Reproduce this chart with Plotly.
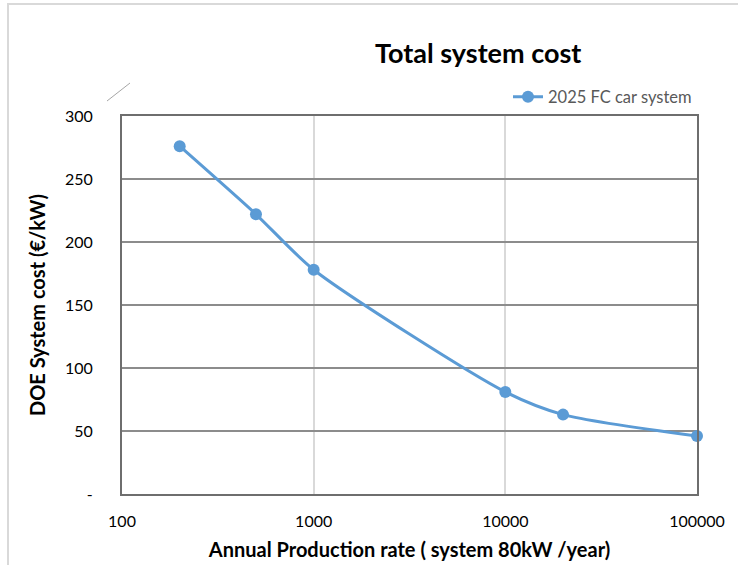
import plotly.graph_objects as go

# Data
production_rate = [200, 500, 1000, 10000, 20000, 100000]
system_cost = [276, 222, 178, 81, 63, 46]
series_name = "2025 FC car system"
x_tick_vals = [100, 1000, 10000, 100000]
x_tick_text = ["100", "1000", "10000", "100000"]
y_tick_vals = [0, 50, 100, 150, 200, 250, 300]
y_tick_text = ["-", "50", "100", "150", "200", "250", "300"]

W, H = 738, 565
L, R, T, B = 122, 41, 116, 71
pw, ph = W - L - R, H - T - B

def px_to_paper(px, py):
    return (px - L) / pw, (H - B - py) / ph

FONT = "Lato, Calibri, Carlito, sans-serif"
BLUE = "#5B9BD5"

fig = go.Figure()
fig.add_trace(go.Scatter(
    x=production_rate, y=system_cost, name=series_name,
    mode="lines+markers",
    line=dict(color=BLUE, width=3, shape="spline", smoothing=0.7),
    marker=dict(color=BLUE, size=12),
    cliponaxis=False,
))

# chart outer frame and diagonal decoration
fx0, fy0 = px_to_paper(8, 4)
fx1, fy1 = px_to_paper(760, 580)
dx0, dy0 = px_to_paper(107, 101)
dx1, dy1 = px_to_paper(130, 83)
tx, ty = px_to_paper(478, 53)

fig.update_layout(
    width=W, height=H,
    margin=dict(l=L, r=R, t=T, b=B, autoexpand=False),
    paper_bgcolor="white", plot_bgcolor="white",
    font=dict(family=FONT, color="#000000", size=16),
    showlegend=True,
    legend=dict(x=1.0, xanchor="right", y=px_to_paper(0, 97)[1], yanchor="middle",
                font=dict(size=16.5, color="#595959"), bgcolor="rgba(0,0,0,0)"),
    annotations=[dict(text="<b>Total system cost</b>", xref="paper", yref="paper",
                      x=tx, y=ty, showarrow=False, xanchor="center", yanchor="middle",
                      font=dict(size=27, color="#000000", family=FONT))],
    shapes=[
        dict(type="rect", xref="paper", yref="paper", x0=fx0, y0=fy1, x1=fx1, y1=fy0,
             line=dict(color="#D9D9D9", width=2), layer="below"),
        dict(type="line", xref="paper", yref="paper", x0=dx0, y0=dy0, x1=dx1, y1=dy1,
             line=dict(color="#A6A6A6", width=1)),
    ],
    xaxis=dict(
        type="log", range=[2, 5],
        tickvals=x_tick_vals, ticktext=x_tick_text,
        showgrid=True, gridcolor="#D9D9D9", gridwidth=2,
        showline=True, linecolor="#6E6E6E", linewidth=2, mirror=True,
        ticks="", ticklabelstandoff=12,
        tickfont=dict(size=16, color="#000000"),
        title=dict(text="<b>Annual Production rate ( system 80kW /year)</b>",
                   font=dict(size=20, color="#000000"), standoff=14),
        zeroline=False,
    ),
    yaxis=dict(
        range=[0, 300],
        tickvals=y_tick_vals, ticktext=y_tick_text,
        showgrid=True, gridcolor="#8C8C8C", gridwidth=2,
        showline=True, linecolor="#6E6E6E", linewidth=2, mirror=True,
        ticks="", ticklabelstandoff=24,
        tickfont=dict(size=16, color="#000000"),
        title=dict(text="<b>DOE System cost (€/kW)</b>",
                   font=dict(size=20, color="#000000"), standoff=14),
        zeroline=False,
    ),
)

fig.write_html("out.html", config={"displayModeBar": False},
               post_script="document.body.style.margin='0';")
